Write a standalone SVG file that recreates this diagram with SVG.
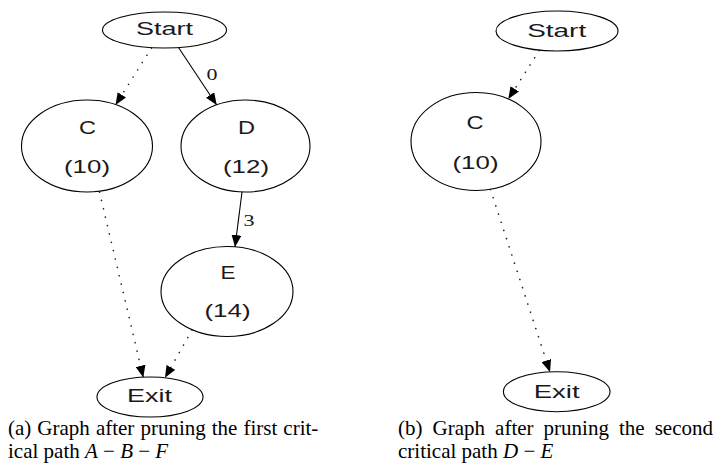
<svg xmlns="http://www.w3.org/2000/svg" width="718" height="468" viewBox="0 0 718 468">
  <style>
    .node ellipse { fill: #ffffff; stroke: #000000; stroke-width: 1.1; }
    .node text { font-family: "Liberation Sans", Arial, sans-serif; font-size: 17.5px; fill: #1a1a1a; text-anchor: middle; }
    .edge { fill: none; stroke: #000000; stroke-width: 1.1; }
    .dotted { stroke: #222222; stroke-dasharray: 0.1 8.5; stroke-linecap: round; stroke-width: 1.6; }
    .elabel { font-family: "Liberation Serif", "Times New Roman", serif; font-size: 16px; fill: #1a1a1a; text-anchor: middle; }
    .caption { font-family: "Liberation Serif", "Times New Roman", serif; font-size: 21px; fill: #000000; }
    .math { font-style: italic; }
  </style>
  <defs>
    <marker id="arrow" viewBox="0 0 12 10" markerUnits="userSpaceOnUse" markerWidth="12" markerHeight="10" refX="12" refY="5" orient="auto">
      <path d="M0,0 L12,5 L0,10 Z" fill="#000000"/>
    </marker>
  </defs>

  <!-- connectors -->
  <g id="edges">
    <!-- left graph -->
    <line class="edge dotted" x1="151.5" y1="48" x2="115.5" y2="105" marker-end="url(#arrow)"/>
    <line class="edge" x1="178.5" y1="47.5" x2="216.7" y2="105" marker-end="url(#arrow)"/>
    <text class="elabel" x="212" y="80" textLength="11" lengthAdjust="spacingAndGlyphs">0</text>
    <line class="edge" x1="242" y1="192" x2="235" y2="247" marker-end="url(#arrow)"/>
    <text class="elabel" x="249" y="225.5" textLength="11" lengthAdjust="spacingAndGlyphs">3</text>
    <line class="edge dotted" x1="99.5" y1="192" x2="143.3" y2="377.5" marker-end="url(#arrow)"/>
    <line class="edge dotted" x1="192" y1="330" x2="165" y2="377.8" marker-end="url(#arrow)"/>
    <!-- right graph -->
    <line class="edge dotted" x1="539.3" y1="50.5" x2="508.3" y2="99" marker-end="url(#arrow)"/>
    <line class="edge dotted" x1="490.5" y1="189.5" x2="550" y2="372" marker-end="url(#arrow)"/>
  </g>

  <!-- left graph nodes -->
  <g id="a_start" class="node">
    <ellipse cx="164.5" cy="30" rx="62" ry="18"/>
    <text x="164.5" y="35" textLength="57" lengthAdjust="spacingAndGlyphs">Start</text>
  </g>
  <g id="a_c" class="node">
    <ellipse cx="87" cy="146" rx="65.5" ry="46"/>
    <text x="87.5" y="133.5" textLength="17" lengthAdjust="spacingAndGlyphs">C</text>
    <text x="87" y="173" textLength="46" lengthAdjust="spacingAndGlyphs">(10)</text>
  </g>
  <g id="a_d" class="node">
    <ellipse cx="245.5" cy="146" rx="64.5" ry="46"/>
    <text x="246.5" y="133.5" textLength="17" lengthAdjust="spacingAndGlyphs">D</text>
    <text x="246" y="173" textLength="46" lengthAdjust="spacingAndGlyphs">(12)</text>
  </g>
  <g id="a_e" class="node">
    <ellipse cx="227" cy="291.5" rx="66" ry="45"/>
    <text x="228" y="278.5" textLength="15" lengthAdjust="spacingAndGlyphs">E</text>
    <text x="227.5" y="317" textLength="46" lengthAdjust="spacingAndGlyphs">(14)</text>
  </g>
  <g id="a_exit" class="node">
    <ellipse cx="150" cy="397" rx="53" ry="20"/>
    <text x="149.5" y="401.5" textLength="45" lengthAdjust="spacingAndGlyphs">Exit</text>
  </g>

  <!-- right graph nodes -->
  <g id="b_start" class="node">
    <ellipse cx="557" cy="31" rx="61" ry="20"/>
    <text x="556.7" y="36.5" textLength="59" lengthAdjust="spacingAndGlyphs">Start</text>
  </g>
  <g id="b_c" class="node">
    <ellipse cx="476" cy="141.5" rx="65" ry="49"/>
    <text x="475" y="128.5" textLength="17" lengthAdjust="spacingAndGlyphs">C</text>
    <text x="475.5" y="168.5" textLength="46" lengthAdjust="spacingAndGlyphs">(10)</text>
  </g>
  <g id="b_exit" class="node">
    <ellipse cx="556.7" cy="391.7" rx="53.3" ry="20"/>
    <text x="556.7" y="398" textLength="46" lengthAdjust="spacingAndGlyphs">Exit</text>
  </g>

  <!-- captions -->
  <g id="captions">
    <text class="caption" x="8" y="435" word-spacing="0.8">(a) Graph after pruning the first crit-</text>
    <text class="caption" x="8" y="458">ical path <tspan class="math">A</tspan> − <tspan class="math">B</tspan> − <tspan class="math">F</tspan></text>
    <text class="caption" x="398" y="435" word-spacing="4.8">(b) Graph after pruning the second</text>
    <text class="caption" x="398" y="458">critical path <tspan class="math">D</tspan> − <tspan class="math">E</tspan></text>
  </g>
</svg>
